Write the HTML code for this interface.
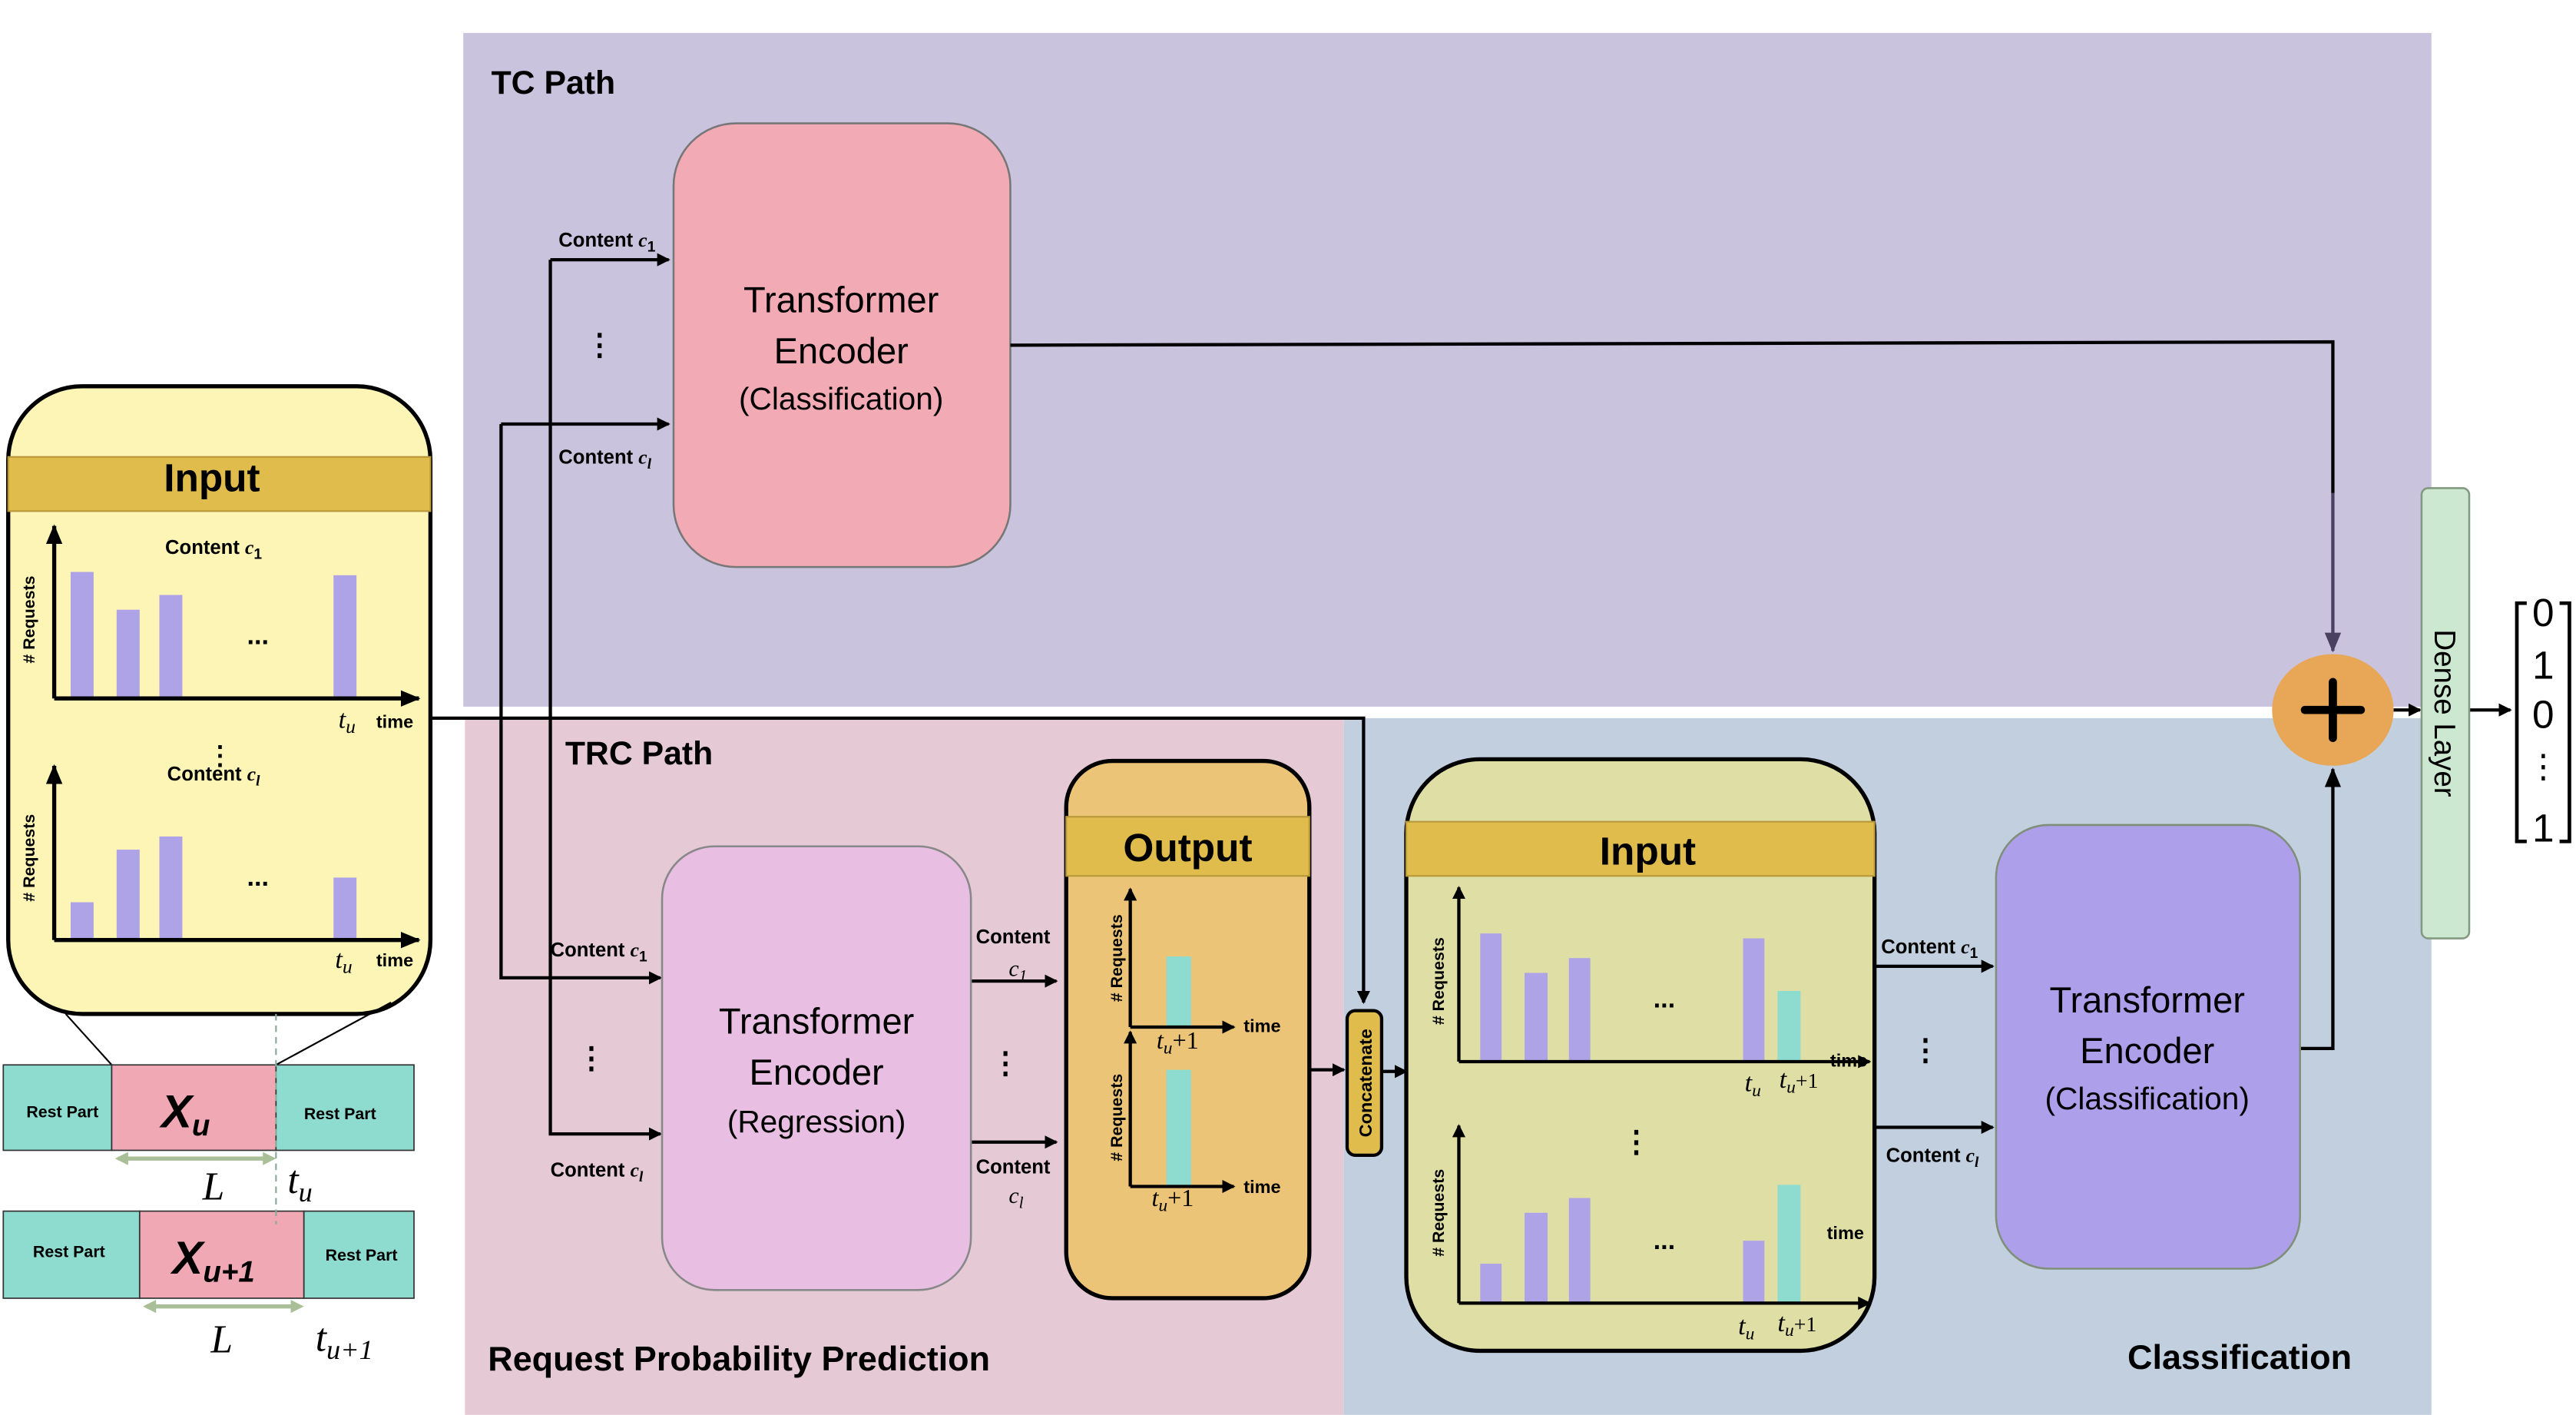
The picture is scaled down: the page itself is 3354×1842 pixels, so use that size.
<!DOCTYPE html>
<html><head><meta charset="utf-8"><style>
html,body{margin:0;padding:0;background:#fff}
svg{display:block}
text{font-family:"Liberation Sans",sans-serif}
.b{font-weight:bold}
.m{font-family:"Liberation Serif",serif;font-style:italic}
</style></head><body>
<svg width="3354" height="1842" viewBox="0 0 1568 861" xmlns="http://www.w3.org/2000/svg">
<defs>
<marker id="a" markerWidth="8" markerHeight="8" refX="7" refY="4" orient="auto" markerUnits="userSpaceOnUse"><path d="M0,0 L8,4 L0,8z" fill="#000"/></marker>
<marker id="a2" markerWidth="12" markerHeight="10" refX="11" refY="5" orient="auto" markerUnits="userSpaceOnUse"><path d="M0,0 L12,5 L0,10z" fill="#000"/></marker>
<marker id="ap" markerWidth="12" markerHeight="10" refX="11" refY="5" orient="auto" markerUnits="userSpaceOnUse"><path d="M0,0 L12,5 L0,10z" fill="#4a4060"/></marker>
</defs>
<rect x="282" y="20" width="1198" height="410" fill="#cac3de"/>
<rect x="283" y="437" width="535" height="424" fill="#e5cad6"/>
<rect x="818" y="437" width="662" height="424" fill="#c1cfdf"/>
<text x="299" y="57" class="b" font-size="20">TC Path</text>
<text x="344" y="465" class="b" font-size="20">TRC Path</text>
<text x="297" y="834" class="b" font-size="21">Request Probability Prediction</text>
<text x="1295" y="833" class="b" font-size="21">Classification</text>

<rect x="5" y="235" width="257" height="382" rx="45" fill="#fdf5b6" stroke="#000" stroke-width="2.5"/>
<rect x="5" y="278" width="257" height="33" fill="#e0bc4c" stroke="#b8983a"/>
<text x="129" y="299" class="b" font-size="24" text-anchor="middle">Input</text>
<g fill="#afa3e8">
<rect x="43" y="348" width="14" height="77"/><rect x="71" y="371" width="14" height="54"/><rect x="97" y="362" width="14" height="63"/><rect x="203" y="350" width="14" height="75"/>
<rect x="43" y="549" width="14" height="23"/><rect x="71" y="517" width="14" height="55"/><rect x="97" y="509" width="14" height="63"/><rect x="203" y="534" width="14" height="38"/>
</g>
<g stroke="#000" stroke-width="2.5" fill="none">
<line x1="33" y1="425" x2="33" y2="320" marker-end="url(#a2)"/><line x1="33" y1="425" x2="255" y2="425" marker-end="url(#a2)"/>
<line x1="33" y1="572" x2="33" y2="466" marker-end="url(#a2)"/><line x1="33" y1="572" x2="255" y2="572" marker-end="url(#a2)"/>
</g>
<text x="130" y="337" class="b" font-size="12" text-anchor="middle">Content <tspan class="m">c</tspan><tspan font-size="9" dy="3">1</tspan></text>
<text x="130" y="475" class="b" font-size="12" text-anchor="middle">Content <tspan class="m">c</tspan><tspan class="m" font-size="9" dy="3">l</tspan></text>
<text x="157" y="392" class="b" font-size="16" text-anchor="middle">...</text>
<text x="157" y="539" class="b" font-size="16" text-anchor="middle">...</text>
<text x="134" y="465" class="b" font-size="16" text-anchor="middle">⋮</text>
<text x="21" y="377" class="b" font-size="10" text-anchor="middle" transform="rotate(-90 21 377)"># Requests</text>
<text x="21" y="522" class="b" font-size="10" text-anchor="middle" transform="rotate(-90 21 522)"># Requests</text>
<text x="206" y="443" class="m" font-size="16">t<tspan font-size="12" dy="3">u</tspan></text>
<text x="229" y="443" class="b" font-size="11">time</text>
<text x="204" y="589" class="m" font-size="16">t<tspan font-size="12" dy="3">u</tspan></text>
<text x="229" y="588" class="b" font-size="11">time</text>

<line x1="40" y1="617" x2="68" y2="648" stroke="#000" stroke-width="1"/>
<line x1="238" y1="610" x2="168" y2="648" stroke="#000" stroke-width="1"/>
<rect x="2" y="648" width="66" height="52" fill="#8edbd0" stroke="#333" stroke-width="0.8"/>
<rect x="68" y="648" width="100" height="52" fill="#f0a8b4" stroke="#333" stroke-width="0.8"/>
<rect x="168" y="648" width="84" height="52" fill="#8edbd0" stroke="#333" stroke-width="0.8"/>
<rect x="2" y="737" width="83" height="53" fill="#8edbd0" stroke="#333" stroke-width="0.8"/>
<rect x="85" y="737" width="100" height="53" fill="#f0a8b4" stroke="#333" stroke-width="0.8"/>
<rect x="185" y="737" width="67" height="53" fill="#8edbd0" stroke="#333" stroke-width="0.8"/>
<line x1="168" y1="617" x2="168" y2="745" stroke="#8a9" stroke-dasharray="4,3"/>
<text x="38" y="680" class="b" font-size="10" text-anchor="middle">Rest Part</text>
<text x="207" y="681" class="b" font-size="10" text-anchor="middle">Rest Part</text>
<text x="42" y="765" class="b" font-size="10" text-anchor="middle">Rest Part</text>
<text x="220" y="767" class="b" font-size="10" text-anchor="middle">Rest Part</text>
<text x="113" y="686" font-family="Liberation Serif,serif" font-weight="bold" font-style="italic" font-size="28" text-anchor="middle">X<tspan font-size="18" dy="5">u</tspan></text>
<text x="130" y="775" font-family="Liberation Serif,serif" font-weight="bold" font-style="italic" font-size="28" text-anchor="middle">X<tspan font-size="18" dy="5">u+1</tspan></text>
<g stroke="#a9bf97" stroke-width="2.5">
<line x1="72" y1="705" x2="165" y2="705"/><path d="M70,705 l8,-4 v8z M168,705 l-8,-4 v8z" fill="#a9bf97" stroke="none"/>
<line x1="89" y1="795" x2="182" y2="795"/><path d="M87,795 l8,-4 v8z M185,795 l-8,-4 v8z" fill="#a9bf97" stroke="none"/>
</g>
<text x="130" y="730" class="m" font-size="24" text-anchor="middle">L</text>
<text x="135" y="823" class="m" font-size="24" text-anchor="middle">L</text>
<text x="175" y="726" class="m" font-size="24">t<tspan font-size="17" dy="5">u</tspan></text>
<text x="192" y="822" class="m" font-size="24">t<tspan font-size="17" dy="5">u+1</tspan></text>

<rect x="410" y="75" width="205" height="270" rx="38" fill="#f2aab5" stroke="#777" stroke-width="1.2"/>
<text x="512" y="190" font-size="22" text-anchor="middle">Transformer</text>
<text x="512" y="221" font-size="22" text-anchor="middle">Encoder</text>
<text x="512" y="249" font-size="19" text-anchor="middle">(Classification)</text>

<g stroke="#000" stroke-width="2" fill="none">
<polyline points="262,437 830,437 830,610" marker-end="url(#a)"/>
<polyline points="335,158 335,690 402,690" marker-end="url(#a)"/>
<line x1="335" y1="158" x2="407" y2="158" marker-end="url(#a)"/>
<polyline points="305,258 305,595 402,595" marker-end="url(#a)"/>
<line x1="305" y1="258" x2="407" y2="258" marker-end="url(#a)"/>
<line x1="591" y1="597" x2="643" y2="597" marker-end="url(#a)"/>
<line x1="591" y1="695" x2="643" y2="695" marker-end="url(#a)"/>
<line x1="797" y1="651" x2="818" y2="651" marker-end="url(#a)"/>
<line x1="841" y1="652" x2="856" y2="652" marker-end="url(#a)"/>
<line x1="1141" y1="588" x2="1213" y2="588" marker-end="url(#a)"/>
<line x1="1141" y1="686" x2="1213" y2="686" marker-end="url(#a)"/>
<polyline points="1400,638 1420,638 1420,468" marker-end="url(#a2)"/>
<line x1="1457" y1="432" x2="1473" y2="432" marker-end="url(#a)"/>
<line x1="1503" y1="432" x2="1528" y2="432" marker-end="url(#a)"/>
</g>
<polyline points="615,210 1420,208 1420,300" stroke="#000" stroke-width="2" fill="none"/>
<line x1="1420" y1="300" x2="1420" y2="396" stroke="#4a4060" stroke-width="2" marker-end="url(#ap)"/>
<text x="340" y="150" class="b" font-size="12">Content <tspan class="m">c</tspan><tspan font-size="9" dy="3">1</tspan></text>
<text x="340" y="282" class="b" font-size="12">Content <tspan class="m">c</tspan><tspan class="m" font-size="9" dy="3">l</tspan></text>
<text x="365" y="216" class="b" font-size="18" text-anchor="middle">⋮</text>
<text x="335" y="582" class="b" font-size="12">Content <tspan class="m">c</tspan><tspan font-size="9" dy="3">1</tspan></text>
<text x="335" y="716" class="b" font-size="12">Content <tspan class="m">c</tspan><tspan class="m" font-size="9" dy="3">l</tspan></text>
<text x="360" y="650" class="b" font-size="18" text-anchor="middle">⋮</text>
<text x="594" y="574" class="b" font-size="12">Content</text>
<text x="614" y="594" class="m" font-size="14">c<tspan font-size="10" dy="3">1</tspan></text>
<text x="594" y="714" class="b" font-size="12">Content</text>
<text x="614" y="732" class="m" font-size="14">c<tspan font-size="10" dy="3">l</tspan></text>
<text x="612" y="653" class="b" font-size="18" text-anchor="middle">⋮</text>

<rect x="403" y="515" width="188" height="270" rx="32" fill="#e8bfe2" stroke="#888" stroke-width="1.2"/>
<text x="497" y="629" font-size="22" text-anchor="middle">Transformer</text>
<text x="497" y="660" font-size="22" text-anchor="middle">Encoder</text>
<text x="497" y="689" font-size="19" text-anchor="middle">(Regression)</text>

<rect x="649" y="463" width="148" height="327" rx="28" fill="#ebc477" stroke="#000" stroke-width="2.5"/>
<rect x="649" y="497" width="148" height="36" fill="#e0bc4c" stroke="#b8983a"/>
<text x="723" y="524" class="b" font-size="24" text-anchor="middle">Output</text>
<rect x="710" y="582" width="15" height="43" fill="#8edbd0"/>
<rect x="710" y="651" width="15" height="71" fill="#8edbd0"/>
<g stroke="#000" stroke-width="2" fill="none">
<line x1="688" y1="625" x2="688" y2="541" marker-end="url(#a)"/><line x1="688" y1="625" x2="751" y2="625" marker-end="url(#a)"/>
<line x1="688" y1="722" x2="688" y2="628" marker-end="url(#a)"/><line x1="688" y1="722" x2="751" y2="722" marker-end="url(#a)"/>
</g>
<text x="683" y="583" class="b" font-size="10" text-anchor="middle" transform="rotate(-90 683 583)"># Requests</text>
<text x="683" y="680" class="b" font-size="10" text-anchor="middle" transform="rotate(-90 683 680)"># Requests</text>
<text x="704" y="638" class="m" font-size="15">t<tspan font-size="11" dy="3">u</tspan><tspan font-style="normal" dy="-3">+1</tspan></text>
<text x="701" y="734" class="m" font-size="15">t<tspan font-size="11" dy="3">u</tspan><tspan font-style="normal" dy="-3">+1</tspan></text>
<text x="757" y="628" class="b" font-size="11">time</text>
<text x="757" y="726" class="b" font-size="11">time</text>

<rect x="820" y="615" width="21" height="88" rx="5" fill="#e0bc4c" stroke="#000" stroke-width="2"/>
<text x="835" y="659" class="b" font-size="11" text-anchor="middle" transform="rotate(-90 835 659)">Concatenate</text>

<rect x="856" y="462" width="285" height="360" rx="45" fill="#dfdfa5" stroke="#000" stroke-width="2.5"/>
<rect x="856" y="500" width="285" height="33" fill="#e0bc4c" stroke="#b8983a"/>
<text x="1003" y="526" class="b" font-size="24" text-anchor="middle">Input</text>
<g fill="#afa3e8">
<rect x="901" y="568" width="13" height="78"/><rect x="928" y="592" width="14" height="54"/><rect x="955" y="583" width="13" height="63"/><rect x="1061" y="571" width="13" height="75"/>
<rect x="901" y="769" width="13" height="24"/><rect x="928" y="738" width="14" height="55"/><rect x="955" y="729" width="13" height="64"/><rect x="1061" y="755" width="13" height="38"/>
</g>
<rect x="1082" y="603" width="14" height="43" fill="#8edbd0"/>
<rect x="1082" y="721" width="14" height="72" fill="#8edbd0"/>
<g stroke="#000" stroke-width="2" fill="none">
<line x1="888" y1="646" x2="888" y2="540" marker-end="url(#a)"/><line x1="888" y1="646" x2="1138" y2="646" marker-end="url(#a)"/>
<line x1="888" y1="793" x2="888" y2="685" marker-end="url(#a)"/><line x1="888" y1="793" x2="1138" y2="793" marker-end="url(#a)"/>
</g>
<text x="879" y="597" class="b" font-size="10" text-anchor="middle" transform="rotate(-90 879 597)"># Requests</text>
<text x="879" y="738" class="b" font-size="10" text-anchor="middle" transform="rotate(-90 879 738)"># Requests</text>
<text x="1013" y="613" class="b" font-size="16" text-anchor="middle">...</text>
<text x="1013" y="760" class="b" font-size="16" text-anchor="middle">...</text>
<text x="996" y="701" class="b" font-size="18" text-anchor="middle">⋮</text>
<text x="1062" y="664" class="m" font-size="16">t<tspan font-size="11" dy="3">u</tspan></text>
<text x="1083" y="662" class="m" font-size="16">t<tspan font-size="11" dy="3">u</tspan><tspan font-style="normal" font-size="13" dy="-3">+1</tspan></text>
<text x="1114" y="649" class="b" font-size="11">time</text>
<text x="1058" y="812" class="m" font-size="16">t<tspan font-size="11" dy="3">u</tspan></text>
<text x="1082" y="810" class="m" font-size="16">t<tspan font-size="11" dy="3">u</tspan><tspan font-style="normal" font-size="13" dy="-3">+1</tspan></text>
<text x="1112" y="754" class="b" font-size="11">time</text>

<text x="1145" y="580" class="b" font-size="12">Content <tspan class="m">c</tspan><tspan font-size="9" dy="3">1</tspan></text>
<text x="1148" y="707" class="b" font-size="12">Content <tspan class="m">c</tspan><tspan class="m" font-size="9" dy="3">l</tspan></text>
<text x="1172" y="645" class="b" font-size="18" text-anchor="middle">⋮</text>

<rect x="1215" y="502" width="185" height="270" rx="32" fill="#ae9feb" stroke="#7f8f7a" stroke-width="1.2"/>
<text x="1307" y="616" font-size="22" text-anchor="middle">Transformer</text>
<text x="1307" y="647" font-size="22" text-anchor="middle">Encoder</text>
<text x="1307" y="675" font-size="19" text-anchor="middle">(Classification)</text>

<ellipse cx="1420" cy="432" rx="37" ry="34" fill="#e8a757"/>
<line x1="1403" y1="432" x2="1437" y2="432" stroke="#000" stroke-width="5" stroke-linecap="round"/>
<line x1="1420" y1="415" x2="1420" y2="449" stroke="#000" stroke-width="5" stroke-linecap="round"/>

<rect x="1474" y="297" width="29" height="274" rx="4" fill="#cce8d0" stroke="#849a80" stroke-width="1.2"/>
<text x="1482" y="434" font-size="18" text-anchor="middle" transform="rotate(90 1482 434)">Dense Layer</text>

<path d="M1538,367 h-6 v145 h6 M1558,367 h6 v145 h-6" stroke="#000" stroke-width="2.2" fill="none"/>
<g font-size="24" text-anchor="middle"><text x="1548" y="381">0</text><text x="1548" y="413">1</text><text x="1548" y="443">0</text><text x="1548" y="473" font-size="20">⋮</text><text x="1548" y="512">1</text></g>
</svg>
</body></html>
